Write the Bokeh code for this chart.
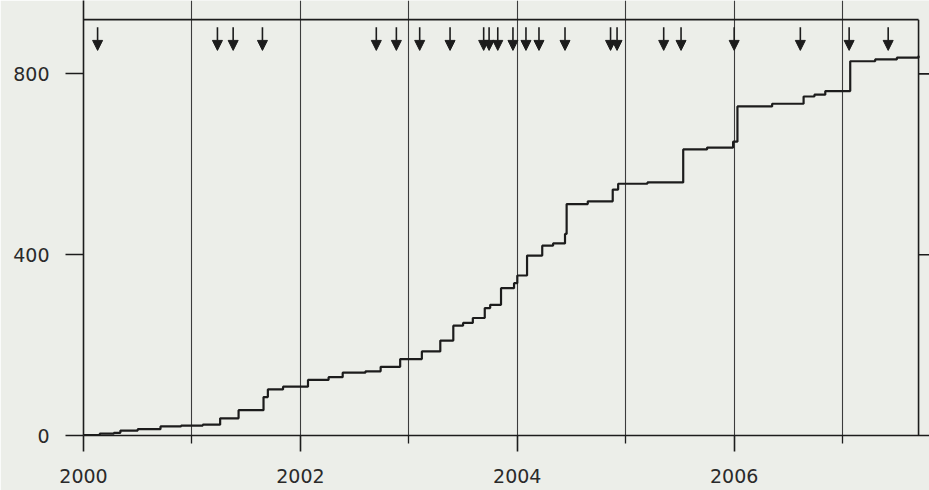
from bokeh.plotting import figure
from bokeh.models import Range1d, FixedTicker, Arrow, NormalHead, ColumnDataSource
from bokeh.embed import file_html
from bokeh.resources import INLINE

# ---- data ----
step_years = [2000.00, 2000.15, 2000.28, 2000.34, 2000.50, 2000.71, 2000.90, 2001.10,
              2001.26, 2001.43, 2001.66, 2001.70, 2001.84, 2002.07, 2002.26, 2002.39,
              2002.60, 2002.74, 2002.92, 2003.12, 2003.29, 2003.41, 2003.50, 2003.59,
              2003.70, 2003.75, 2003.85, 2003.97, 2004.00, 2004.09, 2004.23, 2004.33,
              2004.44, 2004.455, 2004.65, 2004.88, 2004.93, 2005.20, 2005.53, 2005.75,
              2005.99, 2006.03, 2006.35, 2006.64, 2006.74, 2006.84, 2007.07, 2007.30,
              2007.50, 2007.70]
step_counts = [1, 4, 6, 11, 14, 20, 22, 24,
               38, 56, 85, 102, 108, 123, 129, 139,
               142, 152, 169, 186, 210, 243, 249, 260,
               282, 289, 326, 337, 354, 398, 420, 425,
               446, 512, 518, 544, 557, 560, 633, 637,
               650, 728, 734, 750, 754, 762, 828, 832,
               836, 840]

event_years = [2000.13, 2001.235, 2001.38, 2001.65, 2002.70, 2002.885, 2003.10, 2003.38,
               2003.69, 2003.74, 2003.82, 2003.96, 2004.08, 2004.20, 2004.44, 2004.86,
               2004.92, 2005.35, 2005.51, 2006.00, 2006.61, 2007.06, 2007.42]

y_ticks = [0, 400, 800]
x_label_years = [2000, 2002, 2004, 2006]
x_minor_years = [2001, 2003, 2005, 2007]
grid_years = [2001, 2002, 2003, 2004, 2005, 2006, 2007]

# ---- layout constants ----
X_START, X_END = 2000, 2007.801
RIGHT_FRAME = 2007.70
Y_END = 962.4
TOP_FRAME = 920
ARROW_TOP, ARROW_TIP = 903, 852
BG = "#eceee9"
INK = "#1c1c1c"
FONT = "DejaVu Sans"

p = figure(width=929, height=490, output_backend="svg", toolbar_location=None,
           x_range=Range1d(X_START, X_END), y_range=Range1d(0, Y_END),
           min_border_left=83, min_border_right=0, min_border_top=0, min_border_bottom=55,
           background_fill_color=BG, border_fill_color=BG)
p.outline_line_color = None

# grid: vertical year lines
p.ygrid.visible = False
p.xgrid.ticker = FixedTicker(ticks=grid_years)
p.xgrid.grid_line_color = "#3c3c3c"
p.xgrid.grid_line_width = 1.1

# axes
p.yaxis.ticker = FixedTicker(ticks=y_ticks)
p.yaxis.major_tick_out = 18
p.yaxis.major_tick_in = 0
p.yaxis.minor_tick_out = 0
p.yaxis.minor_tick_in = 0
p.yaxis.major_label_standoff = 16
p.xaxis.ticker = FixedTicker(ticks=x_label_years, minor_ticks=x_minor_years)
p.xaxis.major_tick_out = 16
p.xaxis.major_tick_in = 0
p.xaxis.minor_tick_out = 8
p.xaxis.minor_tick_in = 0
p.xaxis.major_label_standoff = 17
for ax in (p.xaxis[0], p.yaxis[0]):
    ax.axis_line_color = INK
    ax.axis_line_width = 1.6
    ax.major_tick_line_color = INK
    ax.major_tick_line_width = 1.6
    ax.minor_tick_line_color = INK
    ax.minor_tick_line_width = 1.3
    ax.major_label_text_font = FONT
    ax.major_label_text_font_size = "19px"
    ax.major_label_text_color = "#2a2a2a"

# frame: top and right lines, right-hand ticks
p.segment(x0=[X_START], y0=[TOP_FRAME], x1=[RIGHT_FRAME], y1=[TOP_FRAME],
          line_color=INK, line_width=1.6)
p.segment(x0=[RIGHT_FRAME], y0=[0], x1=[RIGHT_FRAME], y1=[TOP_FRAME],
          line_color=INK, line_width=1.6)
p.segment(x0=[RIGHT_FRAME] * 2, y0=y_ticks[1:], x1=[X_END] * 2, y1=y_ticks[1:],
          line_color=INK, line_width=1.6)

# cumulative staircase
p.step(step_years, step_counts, mode="after", line_color=INK, line_width=2.2)

# event arrows
src = ColumnDataSource(dict(x=event_years, y0=[ARROW_TOP] * len(event_years),
                            y1=[ARROW_TIP] * len(event_years)))
p.add_layout(Arrow(end=NormalHead(size=10, fill_color=INK, line_color=INK, line_width=1),
                   source=src, x_start="x", y_start="y0", x_end="x", y_end="y1",
                   line_color=INK, line_width=1.6))

open("out.html", "w").write(file_html(p, INLINE))
